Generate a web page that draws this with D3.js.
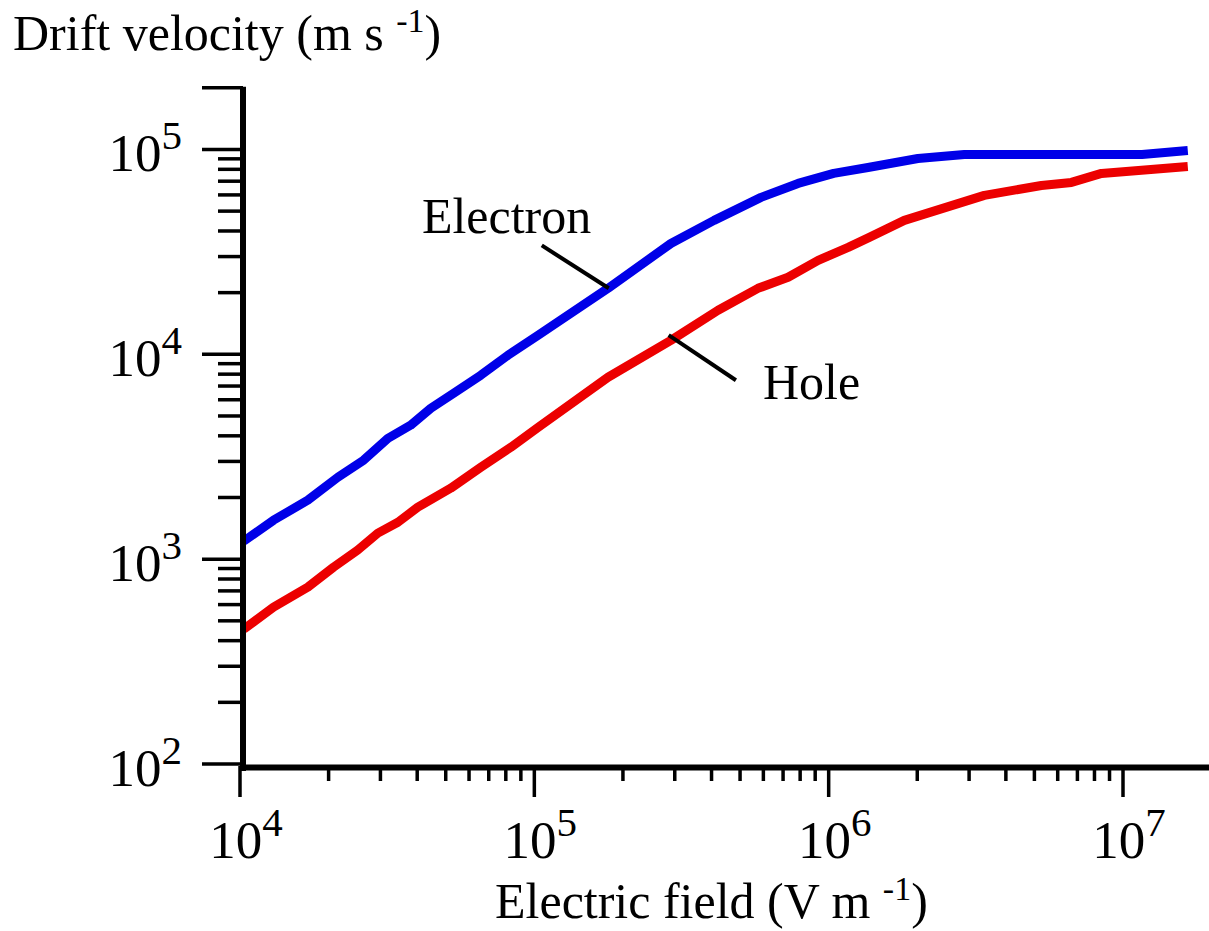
<!DOCTYPE html>
<html>
<head>
<meta charset="utf-8">
<script src="https://cdn.jsdelivr.net/npm/d3@7"></script>
<style>
  html, body { margin: 0; padding: 0; background: #fff; }
  svg text { font-family: "Liberation Serif", "Times New Roman", serif; fill: #000; }
</style>
</head>
<body>
<svg id="chart" width="1209" height="931"></svg>
<script>
// Drift velocity vs electric field (log-log)

const electronField = [1.03e4, 1.30e4, 1.70e4, 2.15e4, 2.63e4, 3.18e4, 3.80e4, 4.45e4, 5.32e4, 6.58e4, 8.13e4, 1.03e5,
    1.78e5, 2.91e5, 4.08e5, 5.89e5, 7.87e5, 1.04e6, 1.36e6, 2.01e6, 2.89e6, 1.16e7, 1.66e7];
const electronVelocity = [1225, 1549, 1941, 2512, 3041, 3890, 4508, 5455, 6457, 7906, 9887, 12390,
    20990, 34750, 45080, 58340, 68250, 76400, 81700, 90300, 94600, 94600, 98900];

const holeField = [1.03e4, 1.30e4, 1.70e4, 2.08e4, 2.51e4, 2.94e4, 3.44e4, 4.02e4, 5.20e4, 6.58e4, 8.32e4, 1.03e5,
    1.78e5, 2.91e5, 4.21e5, 5.75e5, 7.28e5, 9.21e5, 1.165e6, 1.374e6, 1.807e6, 3.38e6, 5.28e6, 6.68e6, 8.45e6, 1.66e7];
const holeVelocity = [455, 583, 730, 914, 1107, 1340, 1514, 1794, 2220, 2810, 3516, 4403,
    7727, 11700, 16410, 20990, 23770, 28760, 33270, 37240, 45080, 59700, 66680, 69050, 76400, 82600];

// tick exponents
const xExponents = [4, 5, 6, 7];
const yExponents = [2, 3, 4, 5];

// curve labels and leader lines (in data units)
const labelNames = ['Electron', 'Hole'];
const labelField = [4.15e4, 5.98e5];
const labelVelocity = [39200, 6050];
const leaderFrom = [[1.06e5, 34000], [2.86e5, 12400]];
const leaderTo = [[1.79e5, 21000], [4.84e5, 7470]];

const svg = d3.select('#chart');

const x = d3.scaleLog().domain([1e4, 2e7]).range([240, 1211.6]);
const y = d3.scaleLog().domain([1e2, 2e5]).range([764, 87.8]);

// minor tick values
const xMinor = [];
[4, 5, 6].forEach(k => { for (let m = 2; m <= 9; m++) xMinor.push(m * Math.pow(10, k)); });
const yMinor = [];
[2, 3, 4].forEach(k => { for (let m = 2; m <= 9; m++) yMinor.push(m * Math.pow(10, k)); });

// Draw curves
const line = d3.line()
    .x(d => x(d[0]))
    .y(d => y(d[1]));

svg.append('path')
    .datum(electronField.map((f, i) => [f, electronVelocity[i]]))
    .attr('d', line)
    .attr('fill', 'none')
    .attr('stroke', '#0000e8')
    .attr('stroke-width', 9)
    .attr('stroke-linejoin', 'round');

svg.append('path')
    .datum(holeField.map((f, i) => [f, holeVelocity[i]]))
    .attr('d', line)
    .attr('fill', 'none')
    .attr('stroke', '#ec0000')
    .attr('stroke-width', 9)
    .attr('stroke-linejoin', 'round');

// Y axis
const yAxis = svg.append('g');
yAxis.selectAll('line.minor')
    .data(yMinor)
    .enter()
    .append('line')
    .attr('x1', 218).attr('x2', 243)
    .attr('y1', d => y(d)).attr('y2', d => y(d))
    .attr('stroke', '#000').attr('stroke-width', 3.5);
yAxis.selectAll('line.major')
    .data(yExponents.map(e => Math.pow(10, e)).concat([2e5]))
    .enter()
    .append('line')
    .attr('x1', 202).attr('x2', 243)
    .attr('y1', d => y(d)).attr('y2', d => y(d))
    .attr('stroke', '#000').attr('stroke-width', 3.5);
yAxis.append('line')
    .attr('x1', 243).attr('x2', 243)
    .attr('y1', y(2e5) - 1).attr('y2', 771)
    .attr('stroke', '#000').attr('stroke-width', 6);

const yLabels = yAxis.selectAll('text')
    .data(yExponents)
    .enter()
    .append('text')
    .attr('x', 182)
    .attr('y', d => y(Math.pow(10, d)) + 22)
    .attr('text-anchor', 'end')
    .attr('font-size', 53);
yLabels.append('tspan').text('10');
yLabels.append('tspan').attr('font-size', 41).attr('dy', -22).text(d => d);

// X axis
const xAxis = svg.append('g');
xAxis.selectAll('line.minor')
    .data(xMinor)
    .enter()
    .append('line')
    .attr('x1', d => x(d)).attr('x2', d => x(d))
    .attr('y1', 766).attr('y2', 781)
    .attr('stroke', '#000').attr('stroke-width', 3.5);
xAxis.selectAll('line.major')
    .data(xExponents)
    .enter()
    .append('line')
    .attr('x1', d => x(Math.pow(10, d))).attr('x2', d => x(Math.pow(10, d)))
    .attr('y1', 766).attr('y2', 797)
    .attr('stroke', '#000').attr('stroke-width', 3.5);
xAxis.append('line')
    .attr('x1', 240).attr('x2', 1209)
    .attr('y1', 767.5).attr('y2', 767.5)
    .attr('stroke', '#000').attr('stroke-width', 6);

const xLabels = xAxis.selectAll('text')
    .data(xExponents)
    .enter()
    .append('text')
    .attr('x', d => x(Math.pow(10, d)) + 6)
    .attr('y', 858)
    .attr('text-anchor', 'middle')
    .attr('font-size', 53);
xLabels.append('tspan').text('10');
xLabels.append('tspan').attr('font-size', 41).attr('dy', -22).text(d => d);

// Axis titles
const yTitle = svg.append('text')
    .attr('x', 13).attr('y', 50)
    .attr('font-size', 50);
yTitle.append('tspan').text('Drift velocity (m s ');
yTitle.append('tspan').attr('font-size', 34).attr('dy', -18).text('-1');
yTitle.append('tspan').attr('dy', 18).text(')');

const xTitle = svg.append('text')
    .attr('x', 495).attr('y', 918)
    .attr('font-size', 50);
xTitle.append('tspan').text('Electric field (V m ');
xTitle.append('tspan').attr('font-size', 34).attr('dy', -18).text('-1');
xTitle.append('tspan').attr('dy', 18).text(')');

// Curve labels with leader lines
svg.selectAll('text.curve-label')
    .data(labelNames)
    .enter()
    .append('text')
    .attr('class', 'curve-label')
    .attr('x', (d, i) => x(labelField[i]))
    .attr('y', (d, i) => y(labelVelocity[i]))
    .attr('font-size', 50)
    .text(d => d);

svg.selectAll('line.leader')
    .data(labelNames)
    .enter()
    .append('line')
    .attr('class', 'leader')
    .attr('x1', (d, i) => x(leaderFrom[i][0]))
    .attr('y1', (d, i) => y(leaderFrom[i][1]))
    .attr('x2', (d, i) => x(leaderTo[i][0]))
    .attr('y2', (d, i) => y(leaderTo[i][1]))
    .attr('stroke', '#000')
    .attr('stroke-width', 4);
</script>
</body>
</html>
